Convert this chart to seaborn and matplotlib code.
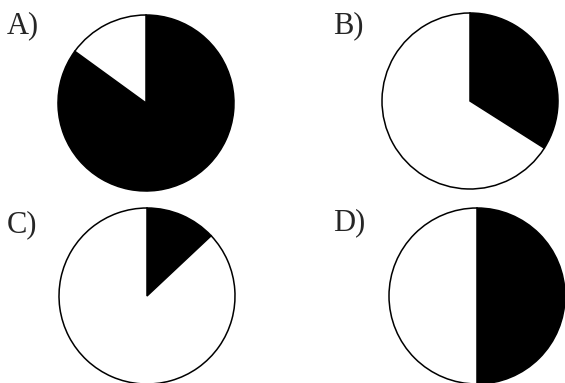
import matplotlib
matplotlib.use("Agg")
import matplotlib.pyplot as plt
import seaborn as sns

sns.set_style("white")
plt.rcParams['font.family'] = ['Liberation Serif', 'DejaVu Serif']

# answer options and the dark share of each circle
options = ["A)", "B)", "C)", "D)"]
black_share = [0.85, 0.34, 0.13, 0.50]

# layout in pixels (x, y from bottom), radius, label spot
centers = [(146, 280), (470, 282), (147, 87), (477, 87)]
label_pos = [(7, 350), (333, 350), (7, 151), (333, 153)]
radius = 88

fig = plt.figure(figsize=(5.65, 3.83), dpi=100)
ax = fig.add_axes([0, 0, 1, 1])

for opt, share, c, lp in zip(options, black_share, centers, label_pos):
    ax.pie([share, 1 - share], colors=["black", "white"], startangle=90,
           counterclock=False, center=c, radius=radius, frame=True,
           wedgeprops=dict(edgecolor="black", linewidth=1.1))
    ax.text(lp[0], lp[1], opt, fontsize=22, ha="left", va="baseline")

ax.set_xlim(0, 565)
ax.set_ylim(0, 383)
ax.set_aspect("equal")
ax.axis("off")

fig.savefig("out.png", dpi=100)
